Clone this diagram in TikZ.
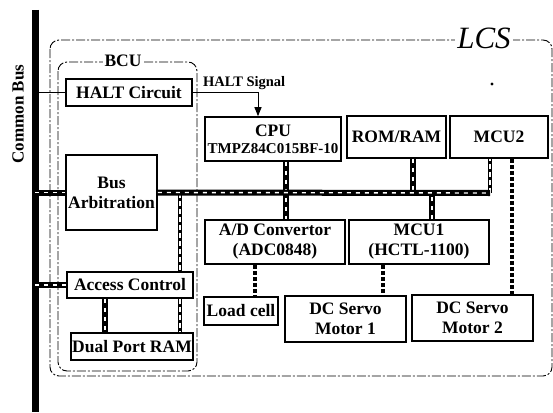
\documentclass[tikz,border=0pt]{standalone}
\usepackage{fontspec}
\setmainfont{Liberation Serif}
\usetikzlibrary{arrows.meta}
\begin{document}
\begin{tikzpicture}[x=1pt, y=-1pt,
    box/.style={draw, line width=1.6pt, fill=white, align=center, inner sep=0pt,
        font=\bfseries\fontsize{17.5}{20}\selectfont},
    bus/.style={line width=6pt, postaction={draw=white, line width=1.4pt, dash pattern=on 4pt off 5pt}},
    tbus/.style={line width=3.5pt, postaction={draw=white, line width=1.2pt, dash pattern=on 5pt off 3pt}},
    link/.style={line width=4.5pt, dash pattern=on 4pt off 2pt},
    frame/.style={line width=0.9pt, rounded corners=9pt, dash pattern=on 9pt off 2pt on 2pt off 2pt}]
  \useasboundingbox (0,0) rectangle (553,412);
  % frames
  \draw[frame] (50,40) rectangle (552,376);
  \draw[frame] (58,62) rectangle (197,371);
  \node[fill=white, inner sep=2pt, font=\itshape\fontsize{31}{31}\selectfont] (lcs) at (484,38) {LCS};
  \node[fill=white, inner sep=2pt, font=\bfseries\fontsize{17.5}{17.5}\selectfont] (bcu) at (123,61) {BCU};
  % common bus
  \coordinate (cbtop) at (35,10);
  \coordinate (cbbot) at (35,412);
  \draw[line width=7pt] (cbtop) -- (cbbot);
  \node[rotate=90, font=\bfseries\fontsize{17}{17}\selectfont] (cblabel) at (18,114) {Common Bus};
  % blocks
  \node[box, minimum width=126pt, minimum height=27pt] (halt) at (129,92.5) {HALT Circuit};
  \node[box, minimum width=136pt, minimum height=44pt] (cpu) at (273,139)
      {CPU\\[-3pt]{\fontsize{15}{16}\selectfont TMPZ84C015BF-10}};
  \node[box, minimum width=99pt, minimum height=42pt] (rom) at (396.5,137) {ROM/RAM};
  \node[box, minimum width=98pt, minimum height=42pt] (mcu2) at (499,137) {MCU2};
  \node[box, minimum width=91pt, minimum height=75pt] (arb) at (111.5,192.5) {Bus\\Arbitration};
  \node[box, minimum width=140pt, minimum height=44pt] (adc) at (275,242) {A/D Convertor\\(ADC0848)};
  \node[box, minimum width=140pt, minimum height=44pt] (mcu1) at (419,242) {MCU1\\(HCTL-1100)};
  \node[box, minimum width=74pt, minimum height=28pt] (load) at (241,311) {Load cell};
  \node[box, minimum width=121pt, minimum height=46pt] (mot1) at (345.5,319) {DC Servo\\Motor 1};
  \node[box, minimum width=121pt, minimum height=46pt] (mot2) at (472.5,318) {DC Servo\\Motor 2};
  \node[box, minimum width=126pt, minimum height=26pt] (acc) at (130,285) {Access Control};
  \node[box, minimum width=122pt, minimum height=27pt] (dpr) at (132,346.5) {Dual Port RAM};
  % halt signal
  \draw[line width=1pt] (halt.west) -- (halt.west -| cbtop);
  \draw[line width=1pt, -{Triangle[length=9pt, width=7pt]}] (halt.east) -| ([xshift=-15pt]cpu.north);
  \node[anchor=base west, inner sep=0pt, font=\bfseries\fontsize{14.5}{15}\selectfont] (hsig) at (203,86) {HALT Signal};
  \fill (492,84) circle (1.6pt);
  % buses
  \coordinate (busend) at (490,193);
  \draw[bus] ([xshift=13pt]cpu.south) -- ([xshift=13pt]cpu.south |- adc.north);
  \draw[bus] ([xshift=16.5pt]rom.south) -- ([xshift=16.5pt]rom.south |- busend);
  \draw[bus] ([xshift=13pt]mcu1.north) -- ([xshift=13pt]mcu1.north |- busend);
  \draw[tbus] (busend) -- (busend |- mcu2.south);
  \draw[tbus] ([xshift=50pt]acc.north |- busend) -- ([xshift=50pt]acc.north);
  \draw[tbus] ([xshift=50pt]acc.south) -- ([xshift=50pt]acc.south |- dpr.north);
  \draw[bus] (arb.west -| cbtop) -- (arb.west);
  \draw[bus] (arb.east) -- (busend);
  \draw[bus] (acc.west -| cbtop) -- (acc.west);
  \draw[bus] ([xshift=-25pt]acc.south) -- ([xshift=-25pt]acc.south |- dpr.north);
  % links
  \draw[link] ([xshift=-20pt]adc.south) -- ([xshift=-20pt]adc.south |- load.north);
  \draw[link] ([xshift=-36pt]mcu1.south) -- ([xshift=-36pt]mcu1.south |- mot1.north);
  \draw[link] ([xshift=13pt]mcu2.south) -- ([xshift=13pt]mcu2.south |- mot2.north);
\end{tikzpicture}
\end{document}
